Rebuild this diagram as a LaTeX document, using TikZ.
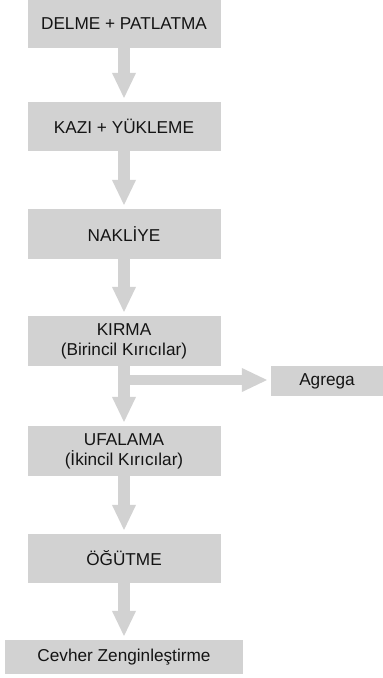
\documentclass[tikz,border=0pt]{standalone}
\usepackage{fontspec}
\setmainfont{Liberation Sans}
\usetikzlibrary{arrows.meta}
\definecolor{boxgray}{RGB}{210,210,210}
\definecolor{txt}{RGB}{20,20,20}
\begin{document}
\begin{tikzpicture}[x=1pt,y=-1pt,
  stepbox/.style={fill=boxgray,draw=none,inner sep=0pt,minimum width=193pt,minimum height=49pt,
    align=center,font=\fontsize{17.2}{20}\selectfont,text=txt},
  flow/.style={draw=boxgray,line width=12pt,-{Triangle[width=22pt,length=26pt]},shorten >=3pt},
  side/.style={draw=boxgray,line width=10pt,-{Triangle[width=22pt,length=26pt]},shorten >=3pt}]
\useasboundingbox (0,0) rectangle (383,678);
\node[stepbox,minimum height=48pt] (b1) at (124,24) {DELME + PATLATMA};
\node[stepbox] (b2) at (124,126.5) {KAZI + YÜKLEME};
\node[stepbox,minimum height=50pt] (b3) at (124,234) {NAKLİYE};
\node[stepbox,minimum height=50pt] (b4) at (124,341) {KIRMA\\(Birincil Kırıcılar)};
\node[stepbox,minimum height=50pt] (b5) at (124,451) {UFALAMA\\(İkincil Kırıcılar)};
\node[stepbox] (b6) at (124,558.5) {ÖĞÜTME};
\node[stepbox,minimum width=238pt,minimum height=34pt] (b7) at (124,657) {Cevher Zenginleştirme};
\node[stepbox,minimum width=112pt,minimum height=30pt] (ag) at (327,381) {Agrega};
\coordinate (split) at (119,380);
\draw[flow] (b1.south) -- (b2.north);
\draw[flow] (b2.south) -- (b3.north);
\draw[flow] (b3.south) -- (b4.north);
\draw[side] (split) -- (split -| ag.west);
\draw[flow] (b4.south) -- (b5.north);
\draw[flow] (b5.south) -- (b6.north);
\draw[flow] (b6.south) -- (b7.north);
\end{tikzpicture}
\end{document}
